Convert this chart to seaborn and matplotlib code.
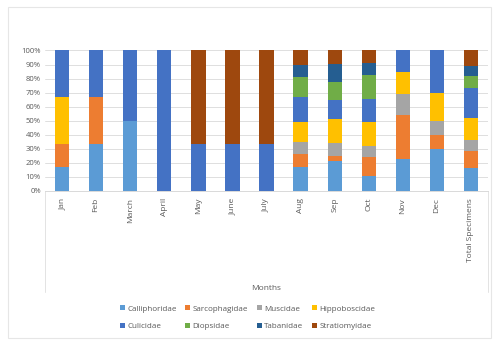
import pandas as pd
import seaborn as sns
import matplotlib.pyplot as plt
from matplotlib.lines import Line2D

months = ['Jan', 'Feb', 'March', 'April', 'May', 'June', 'July', 'Aug', 'Sep',
          'Oct', 'Nov', 'Dec', 'Total Specimens']
families = ['Calliphoridae', 'Sarcophagidae', 'Muscidae', 'Hippoboscidae',
            'Culicidae', 'Diopsidae', 'Tabanidae', 'Stratiomyidae']

# percentage share of each family per month
calliphoridae = [16.7, 33.3, 50, 0, 0, 0, 0, 17, 21, 11, 23, 30, 16.5]
sarcophagidae = [16.7, 33.3, 0, 0, 0, 0, 0, 9, 4, 13, 31, 10, 12]
muscidae = [0, 0, 0, 0, 0, 0, 0, 9, 9, 8, 15, 10, 8]
hippoboscidae = [33.3, 0, 0, 0, 0, 0, 0, 14, 17.5, 17, 15.5, 20, 15.5]
culicidae = [33.3, 33.4, 50, 100, 33.3, 33.3, 33.3, 18, 13, 16.5, 15.5, 30, 21]
diopsidae = [0, 0, 0, 0, 0, 0, 0, 14, 13, 17, 0, 0, 9]
tabanidae = [0, 0, 0, 0, 0, 0, 0, 9, 13, 8.5, 0, 0, 7]
stratiomyidae = [0, 0, 0, 0, 66.7, 66.7, 66.7, 10, 9.5, 9, 0, 0, 11]

colors = ['#5B9BD5', '#ED7D31', '#A5A5A5', '#FFC000',
          '#4472C4', '#70AD47', '#255E91', '#9E480E']

df = pd.DataFrame({'Calliphoridae': calliphoridae, 'Sarcophagidae': sarcophagidae,
                   'Muscidae': muscidae, 'Hippoboscidae': hippoboscidae,
                   'Culicidae': culicidae, 'Diopsidae': diopsidae,
                   'Tabanidae': tabanidae, 'Stratiomyidae': stratiomyidae},
                  index=months)
# normalise rows to 100%
df = df.div(df.sum(axis=1), axis=0)

sns.set_style('white')
plt.rcParams['font.family'] = ['Open Sans', 'DejaVu Sans']
text_col = '#595959'

fig = plt.figure(figsize=(4.95, 3.41), dpi=100)
ax = fig.add_axes([0.0909, 0.44, 0.895, 0.412])

bottom = pd.Series(0.0, index=months)
for fam, col in zip(families, colors):
    sns.barplot(x=months, y=df[fam].values, bottom=bottom.values, color=col,
                width=0.42, ax=ax, label=fam, linewidth=0, saturation=1)
    bottom = bottom + df[fam]

ax.set_ylim(0, 1)
ax.set_xlim(-0.5, len(months) - 0.5)
ax.set_yticks([i / 10 for i in range(11)])
ax.set_yticklabels([f'{i * 10}%' for i in range(11)])
ax.yaxis.grid(True, color='#D9D9D9', linewidth=0.6)
ax.set_axisbelow(True)
for s in ['top', 'right', 'left']:
    ax.spines[s].set_visible(False)
ax.spines['bottom'].set_color('#D9D9D9')
ax.spines['bottom'].set_linewidth(0.7)
ax.tick_params(axis='both', length=0, labelsize=5.5, colors=text_col, pad=3)
ax.tick_params(axis='x', pad=5, labelsize=6)
plt.setp(ax.get_xticklabels(), rotation=90)
ax.set_xlabel('Months', fontsize=6, color=text_col, labelpad=17)
ax.set_ylabel('')

# faint category axis divider lines
for xa in (0, 1):
    ax.add_line(Line2D([xa, xa], [0, -0.72], transform=ax.transAxes,
                       color='#E3E3E3', linewidth=0.7, clip_on=False))

handles, labels = ax.get_legend_handles_labels()
ax.get_legend().remove()
# reorder so the legend reads row by row
order = [0, 4, 1, 5, 2, 6, 3, 7]
leg = fig.legend([handles[i] for i in order], [labels[i] for i in order],
                 loc='center', bbox_to_anchor=(0.5, 0.068),
                 ncol=4, frameon=False, fontsize=5.8, handlelength=0.6,
                 handleheight=0.6, handletextpad=0.3, columnspacing=1.1,
                 labelspacing=1.3)
for t in leg.get_texts():
    t.set_color(text_col)

# outer chart border
fig.add_artist(plt.Rectangle((0.016, 0.01), 0.975, 0.97, transform=fig.transFigure,
                             fill=False, edgecolor='#E6E6E6', linewidth=0.8))

fig.savefig('out.png', dpi=100)
